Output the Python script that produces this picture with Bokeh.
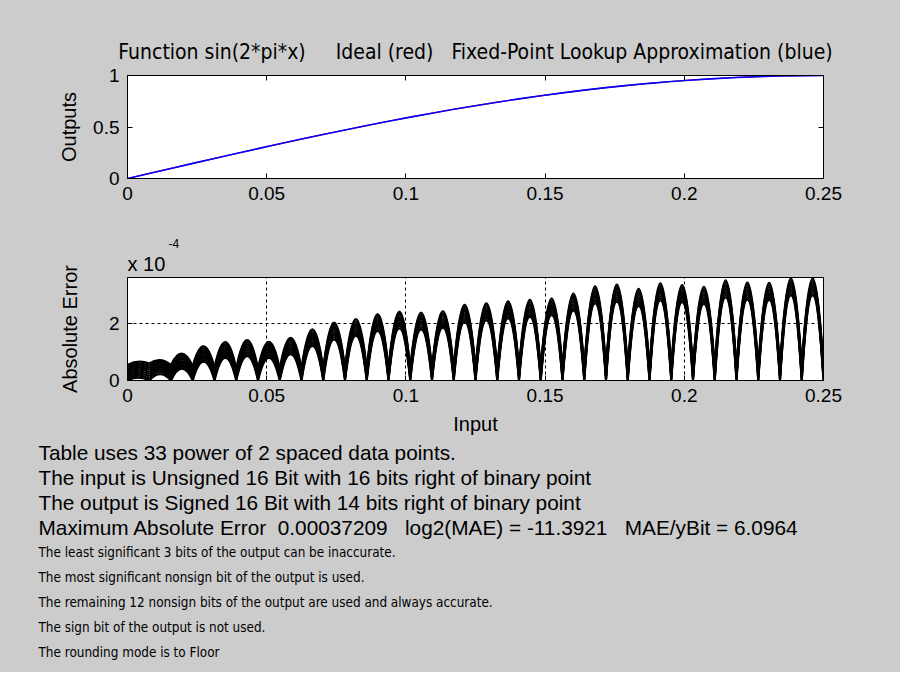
from bokeh.plotting import figure
from bokeh.layouts import column, row
from bokeh.models import (Range1d, LinearAxis, FixedTicker, NumeralTickFormatter,
                          CustomJSTickFormatter, Title, ColumnDataSource)
from bokeh.core.properties import value
from bokeh.embed import file_html
from bokeh.resources import INLINE

# ---------------- data ----------------
# table breakpoints (33 power-of-2 spaced points on [0, 0.25])
table_x = [0.0, 0.0078125, 0.015625, 0.0234375, 0.03125, 0.0390625, 0.046875,
           0.0546875, 0.0625, 0.0703125, 0.078125, 0.0859375, 0.09375, 0.1015625,
           0.109375, 0.1171875, 0.125, 0.1328125, 0.140625, 0.1484375, 0.15625,
           0.1640625, 0.171875, 0.1796875, 0.1875, 0.1953125, 0.203125, 0.2109375,
           0.21875, 0.2265625, 0.234375, 0.2421875, 0.25]
# output value at each breakpoint (top panel)
table_y = [0.000, 0.049, 0.098, 0.147, 0.195, 0.243, 0.290, 0.337, 0.383,
           0.428, 0.471, 0.514, 0.556, 0.596, 0.634, 0.672, 0.707, 0.741,
           0.773, 0.803, 0.831, 0.858, 0.882, 0.904, 0.924, 0.942, 0.957,
           0.970, 0.981, 0.989, 0.995, 0.999, 1.000]
# absolute error (units of 1e-4): top and bottom of the thick band at each arch centre
err_peak_hi = [0.66, 0.72, 0.95, 1.20, 1.35, 1.42, 1.36, 1.50, 1.80, 2.04, 2.16,
               2.34, 2.43, 2.39, 2.45, 2.67, 2.72, 2.79, 2.84, 2.89, 3.06, 3.32,
               3.38, 3.23, 3.42, 3.36, 3.30, 3.53, 3.45, 3.44, 3.60, 3.60]
err_peak_lo = [0.10, 0.22, 0.42, 0.66, 0.80, 0.86, 0.80, 0.93, 1.22, 1.45, 1.58,
               1.75, 1.84, 1.80, 1.86, 2.07, 2.13, 2.20, 2.25, 2.30, 2.46, 2.72,
               2.78, 2.63, 2.82, 2.76, 2.70, 2.93, 2.85, 2.84, 3.00, 3.00]
# top of the band at each breakpoint (units of 1e-4)
err_knot_hi = [0.55, 0.60, 0.55, 0.50, 0.45, 0.40, 0.40, 0.40, 0.40, 0.40, 0.40,
               0.40, 0.40, 0.40, 0.40, 0.40, 0.40, 0.40, 0.40, 0.40, 0.40, 0.40,
               0.40, 0.40, 0.40, 0.40, 0.40, 0.40, 0.40, 0.40, 0.40, 0.40, 0.40]

x_ticks = [0, 0.05, 0.1, 0.15, 0.2, 0.25]
y_ticks_top = [0, 0.5, 1]
y_ticks_err = [0, 2]
err_ymax = 3.63

NB = "\u00a0"
title_text = ("Function sin(2*pi*x) " + NB * 4 + "Ideal (red) " + NB * 2
              + "Fixed-Point Lookup Approximation (blue)")
info_lines_wide = [
    "Table uses 33 power of 2 spaced data points.",
    "The input is Unsigned 16 Bit with 16 bits right of binary point",
    "The output is Signed 16 Bit with 14 bits right of binary point",
    "Maximum Absolute Error " + NB + "0.00037209 " + NB * 2 + "log2(MAE) = -11.3921 "
    + NB * 2 + "MAE/yBit = 6.0964",
]
info_lines_narrow = [
    "The least significant 3 bits of the output can be inaccurate.",
    "The most significant nonsign bit of the output is used.",
    "The remaining 12 nonsign bits of the output are used and always accurate.",
    "The sign bit of the output is not used.",
    "The rounding mode is to Floor",
]
exp_base, exp_power = "x 10", "-4"

# ---------------- styling ----------------
GRAY = "#cccccc"
FONT = "Liberation Sans"
NARROW = "'DejaVu Sans Condensed', 'Liberation Sans'"
W = 900
BL, BR = 127, 77


def style_axes(p, yt, yfmt, box_ticks=True):
    extra = []
    if box_ticks:
        top = LinearAxis()
        right = LinearAxis()
        p.add_layout(top, "above")
        p.add_layout(right, "right")
        extra = [top, right]
    for ax in p.xaxis:
        ax.ticker = FixedTicker(ticks=x_ticks)
        ax.formatter = NumeralTickFormatter(format="0.[00]")
    for ax in p.yaxis:
        ax.ticker = FixedTicker(ticks=yt)
        ax.formatter = NumeralTickFormatter(format=yfmt)
    for ax in p.axis:
        ax.major_tick_in = 5
        ax.major_tick_out = 0
        ax.minor_tick_in = 0
        ax.minor_tick_out = 0
        ax.axis_line_color = "black"
        ax.major_tick_line_color = "black"
        ax.major_label_text_font = FONT
        ax.major_label_text_font_size = "19px"
        ax.major_label_text_color = "black"
        ax.major_label_standoff = 8
        ax.axis_label_text_font = FONT
        ax.axis_label_text_font_size = "20px"
        ax.axis_label_text_font_style = "normal"
        ax.axis_label_text_color = "black"
    for ax in extra:
        ax.formatter = CustomJSTickFormatter(code="return ''")
        ax.major_label_standoff = 0


# ---------------- top panel ----------------
p1 = figure(width=W, height=232, x_range=Range1d(0, 0.25), y_range=Range1d(0, 1),
            output_backend="svg", toolbar_location=None,
            min_border_left=BL, min_border_right=BR, min_border_top=75, min_border_bottom=54,
            background_fill_color="white", border_fill_color=GRAY,
            outline_line_color="black")
p1.grid.visible = False
style_axes(p1, y_ticks_top, "0.[0]")
p1.left[0].axis_label = "Outputs"
p1.left[0].axis_label_standoff = 10
p1.line(table_x, table_y, line_color="#ff0000", line_width=1.2)
p1.line(table_x, table_y, line_color="#0000ff", line_width=1.6)
p1.title.text = title_text
p1.title.align = "center"
p1.title.text_font = NARROW
p1.title.text_font_size = "21px"
p1.title.text_font_style = "normal"
p1.title.text_color = "black"
p1.title.standoff = 23

# ---------------- error panel ----------------
p2 = figure(width=W, height=208, x_range=Range1d(0, 0.25), y_range=Range1d(0, err_ymax),
            output_backend="svg", toolbar_location=None,
            min_border_left=BL, min_border_right=BR, min_border_top=45, min_border_bottom=60,
            background_fill_color="white", border_fill_color=GRAY,
            outline_line_color="black")
style_axes(p2, y_ticks_err, "0", box_ticks=False)
p2.xgrid.ticker = FixedTicker(ticks=x_ticks)
p2.ygrid.ticker = FixedTicker(ticks=y_ticks_err)
p2.grid.grid_line_color = "black"
p2.grid.grid_line_dash = "3 3"
p2.grid.grid_line_width = 1
p2.below[0].axis_label = "Input"
p2.below[0].axis_label_standoff = 8
p2.left[0].axis_label = "Absolute Error"
p2.left[0].axis_label_standoff = 25

n_layers = 9
rows = dict(x0=[], y0=[], x1=[], y1=[], cx=[], cy=[])
for k in range(len(err_peak_hi)):
    xa, xb = table_x[k], table_x[k + 1]
    for j in range(n_layers):
        f = j / (n_layers - 1)
        ya = f * err_knot_hi[k]
        yb = f * err_knot_hi[k + 1]
        peak = err_peak_lo[k] + f * (err_peak_hi[k] - err_peak_lo[k])
        rows["x0"].append(xa)
        rows["y0"].append(ya)
        rows["x1"].append(xb)
        rows["y1"].append(yb)
        rows["cx"].append(0.5 * (xa + xb))
        rows["cy"].append(2 * peak - 0.5 * (ya + yb))
p2.quadratic(x0="x0", y0="y0", x1="x1", y1="y1", cx="cx", cy="cy",
             source=ColumnDataSource(rows), line_color="black", line_width=2.2)

t_base = Title(text=exp_base, align="left", offset=0, text_font=FONT,
               text_font_size="20px", text_font_style="normal", text_color="black",
               standoff=6)
t_pow = Title(text=exp_power, align="left", offset=41, text_font=FONT,
              text_font_size="12px", text_font_style="normal", text_color="black",
              standoff=0)
p2.add_layout(t_base, "above")
p2.add_layout(t_pow, "above")

# ---------------- text panel ----------------
H3 = 232
p3 = figure(width=W, height=H3, x_range=Range1d(0, W), y_range=Range1d(H3, 0),
            output_backend="svg", toolbar_location=None, x_axis_type=None, y_axis_type=None,
            min_border=0, min_border_left=0, min_border_right=0,
            background_fill_color=GRAY, border_fill_color=GRAY,
            outline_line_color=None)
p3.grid.visible = False
n_w = len(info_lines_wide)
p3.text(x=[38] * n_w, y=[12 + 25 * i for i in range(n_w)], text=info_lines_wide,
        text_baseline="middle", text_font=value(FONT), text_font_size="20.8px",
        text_color="black")
n_n = len(info_lines_narrow)
p3.text(x=[38] * n_n, y=[12 + 25 * (n_w + i) for i in range(n_n)], text=info_lines_narrow,
        text_baseline="middle", text_font=value(NARROW), text_font_size="13.4px",
        text_color="black")

layout = column(column(p1, p2, spacing=0), row(p3), spacing=0)
layout.background = GRAY
open("out.html", "w").write(file_html(layout, INLINE))
